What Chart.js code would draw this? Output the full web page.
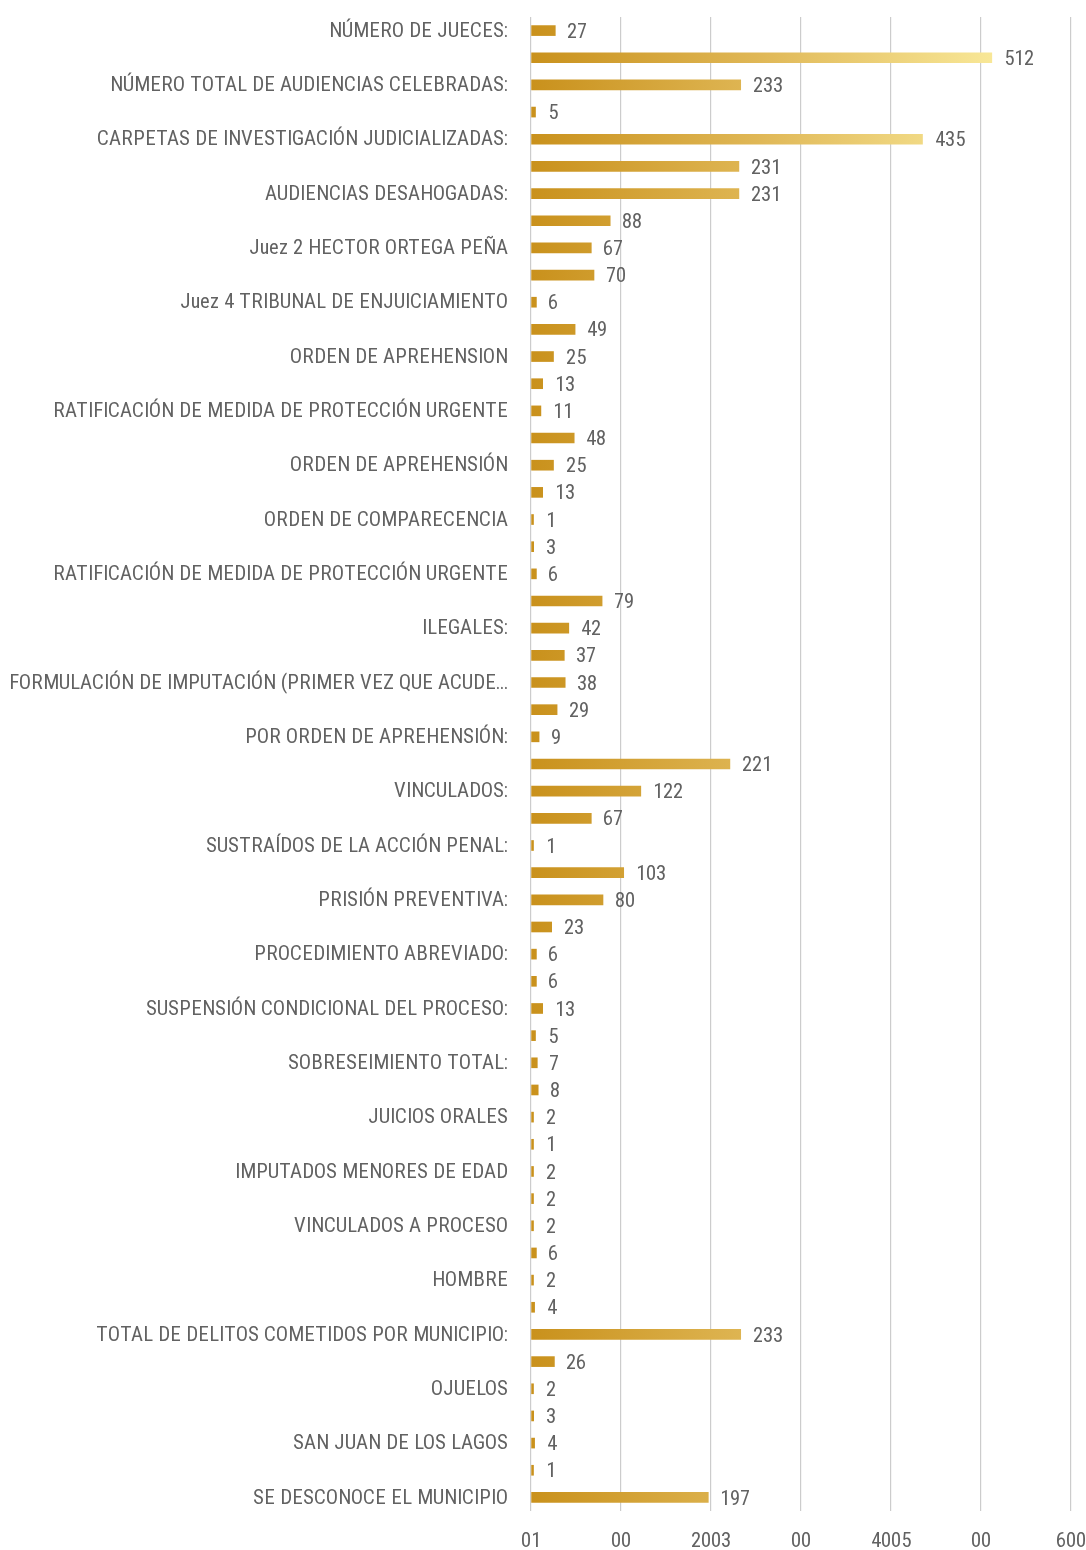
<!DOCTYPE html>
<html>
<head>
<meta charset="utf-8">
<script src="https://cdn.jsdelivr.net/npm/chart.js@4/dist/chart.umd.min.js"></script>
<style>
  @font-face {
    font-family: "RCond";
    src: local("Roboto Condensed"), local("RobotoCondensed-Regular");
  }
  html, body { margin: 0; padding: 0; background: #fff; }
  #wrap { width: 1086px; height: 1550px; }
</style>
</head>
<body>
<div id="wrap"><canvas id="barChart"></canvas></div>
<script>
// shown category labels (every other bar carries one)
const categories = [
  "NÚMERO DE JUECES:",
  "NÚMERO TOTAL DE AUDIENCIAS CELEBRADAS:",
  "CARPETAS DE INVESTIGACIÓN JUDICIALIZADAS:",
  "AUDIENCIAS DESAHOGADAS:",
  "Juez 2 HECTOR ORTEGA PEÑA",
  "Juez 4 TRIBUNAL DE ENJUICIAMIENTO",
  "ORDEN DE APREHENSION",
  "RATIFICACIÓN DE MEDIDA DE PROTECCIÓN URGENTE",
  "ORDEN DE APREHENSIÓN",
  "ORDEN DE COMPARECENCIA",
  "RATIFICACIÓN DE MEDIDA DE PROTECCIÓN URGENTE",
  "ILEGALES:",
  "FORMULACIÓN DE IMPUTACIÓN (PRIMER VEZ QUE ACUDE...",
  "POR ORDEN DE APREHENSIÓN:",
  "VINCULADOS:",
  "SUSTRAÍDOS DE LA ACCIÓN PENAL:",
  "PRISIÓN PREVENTIVA:",
  "PROCEDIMIENTO ABREVIADO:",
  "SUSPENSIÓN CONDICIONAL DEL PROCESO:",
  "SOBRESEIMIENTO TOTAL:",
  "JUICIOS ORALES",
  "IMPUTADOS MENORES DE EDAD",
  "VINCULADOS A PROCESO",
  "HOMBRE",
  "TOTAL DE DELITOS COMETIDOS POR MUNICIPIO:",
  "OJUELOS",
  "SAN JUAN DE LOS LAGOS",
  "SE DESCONOCE EL MUNICIPIO"
];

const values = [
  27, 512, 233, 5, 435, 231, 231, 88, 67, 70,
  6, 49, 25, 13, 11, 48, 25, 13, 1, 3,
  6, 79, 42, 37, 38, 29, 9, 221, 122, 67,
  1, 103, 80, 23, 6, 6, 13, 5, 7, 8,
  2, 1, 2, 2, 2, 6, 2, 4, 233, 26,
  2, 3, 4, 1, 197
];

const xTickText = ["01", "00", "2003", "00", "4005", "00", "600"];

const FONT = "RCond, 'Roboto Condensed', sans-serif";
const FONT_SIZE = 20.75;
const TEXT_COLOR = "#626262";

// every other row gets a label, the rows between stay blank
const rowLabels = values.map((v, i) => (i % 2 === 0 ? categories[i / 2] : ""));

const valueLabels = {
  id: "valueLabels",
  afterDatasetsDraw(chart) {
    const ctx = chart.ctx;
    const meta = chart.getDatasetMeta(0);
    ctx.save();
    ctx.font = FONT_SIZE + "px " + FONT;
    ctx.fillStyle = TEXT_COLOR;
    ctx.textAlign = "left";
    ctx.textBaseline = "middle";
    meta.data.forEach((bar, i) => {
      ctx.fillText(String(values[i]), bar.x + 12, bar.y + 1);
    });
    ctx.restore();
  },
};

function barGradient(context) {
  const chart = context.chart;
  if (!chart.chartArea) return "#c9921e";
  const x = chart.scales.x;
  const x0 = x.getPixelForValue(0);
  const x1 = x.getPixelForValue(Math.max(...values));
  const g = chart.ctx.createLinearGradient(x0, 0, x1, 0);
  g.addColorStop(0, "#c9911c");
  g.addColorStop(0.5, "#e0b857");
  g.addColorStop(1, "#f8e797");
  return g;
}

function draw() {
  const ctx = document.getElementById("barChart").getContext("2d");
  new Chart(ctx, {
    type: "bar",
    data: {
      labels: rowLabels,
      datasets: [
        {
          data: values,
          backgroundColor: barGradient,
          borderWidth: 0,
          barThickness: 10,
          minBarLength: 2.5,
        },
      ],
    },
    options: {
      indexAxis: "y",
      responsive: true,
      maintainAspectRatio: false,
      animation: false,
      layout: {
        padding: { top: 17, right: 0, bottom: 0, left: 0 },
      },
      plugins: {
        legend: { display: false },
        tooltip: { enabled: false },
      },
      scales: {
        x: {
          min: 0,
          max: 600,
          ticks: {
            stepSize: 100,
            padding: 0,
            color: TEXT_COLOR,
            font: { family: FONT, size: FONT_SIZE },
            callback: (v, i) => xTickText[i],
          },
          grid: {
            color: "#cccccc",
            lineWidth: 1.2,
            drawTicks: true,
            tickLength: 17,
            tickColor: "rgba(0,0,0,0)",
          },
          border: { display: false },
          afterFit: (scale) => { scale.height = 39; },
        },
        y: {
          ticks: {
            autoSkip: false,
            padding: 0,
            color: TEXT_COLOR,
            font: { family: FONT, size: FONT_SIZE },
          },
          grid: {
            display: true,
            drawOnChartArea: false,
            drawTicks: true,
            tickLength: 23,
            color: "rgba(0,0,0,0)",
            tickColor: "rgba(0,0,0,0)",
          },
          border: { display: false },
          afterFit: (scale) => { scale.width = 531; },
        },
      },
    },
    plugins: [valueLabels],
  });
}

document.fonts.load(FONT_SIZE + "px RCond", "NÚMERO 0123").then(draw, draw);
</script>
</body>
</html>
